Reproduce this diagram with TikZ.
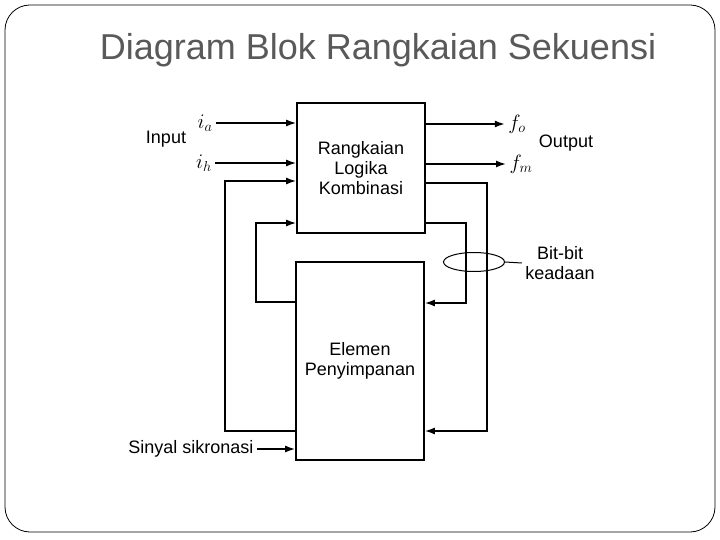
\documentclass[tikz,border=0pt]{standalone}
\usepackage{fontspec}
\setmainfont{Liberation Sans}
\usetikzlibrary{positioning}
\usetikzlibrary{arrows.meta}
\usetikzlibrary{shapes.geometric}

\begin{document}
\begin{tikzpicture}[x=1pt, y=-1pt, every node/.style={font=\fontsize{18}{20}\selectfont},
    block/.style={draw, line width=1.6pt, inner sep=0pt, align=center},
    sig/.style={font=\fontsize{21}{22}\selectfont},
    wire/.style={line width=1.6pt},
    arr/.style={wire, -{Latex[length=10pt,width=7pt]}}]
    \useasboundingbox (0,0) rectangle (720,540);
    \draw[line width=0.8pt, rounded corners=25pt] (5,5) rectangle (715,532);
    \node[font=\fontsize{36}{40}\selectfont, text=black!65] (title) at (378,50) {Diagram Blok Rangkaian Sekuensi};
    % the two blocks
    \node[block, minimum width=128pt, minimum height=130pt] (logic) at (361,168) {Rangkaian\\Logika\\Kombinasi};
    \node[block, minimum width=128pt, minimum height=198pt] (store) at (360,361) {Elemen\\Penyimpanan};
    % inputs and outputs
    \node[sig] (ia) at (205,123) {$i_a$};
    \node[sig] (ih) at (204,163) {$i_h$};
    \node[sig] (fo) at (517,124) {$f_o$};
    \node[sig] (fm) at (521,164) {$f_m$};
    \node (input) at (166,139) {Input};
    \node (output) at (566,143) {Output};
    \foreach \n in {ia,ih} \draw[arr] (\n.east) -- (logic.west |- \n);
    \foreach \n in {fo,fm} \draw[arr] (logic.east |- \n) -- (\n.west);
    % feedback loops
    \coordinate (outLt) at (225,181); \coordinate (outLb) at (225,431);
    \coordinate (inLt) at (256,223);  \coordinate (inLb) at (256,302);
    \coordinate (inRt) at (466,223);  \coordinate (inRb) at (466,303);
    \coordinate (outRt) at (487,183); \coordinate (outRb) at (487,431);
    \draw[arr] (store.west |- outLb) -- (outLb) -- (outLt) -- (logic.west |- outLt);
    \draw[arr] (store.west |- inLb) -- (inLb) -- (inLt) -- (logic.west |- inLt);
    \draw[arr] (logic.east |- inRt) -- (inRt) -- (inRb) -- (store.east |- inRb);
    \draw[arr] (logic.east |- outRt) -- (outRt) -- (outRb) -- (store.east |- outRb);
    % state bits
    \node[draw, ellipse, line width=1pt, minimum width=61pt, minimum height=19pt, inner sep=0pt] (bits) at (474,262) {};
    \node[align=center] (bitlabel) at (560,263) {Bit-bit\\keadaan};
    \draw[line width=1pt] (bits.east) -- (bitlabel.west);
    % clock
    \node[anchor=east] (sync) at (257,449) {Sinyal sikronasi};
    \draw[arr] (sync.east) -- (store.west |- sync);
\end{tikzpicture}
\end{document}
